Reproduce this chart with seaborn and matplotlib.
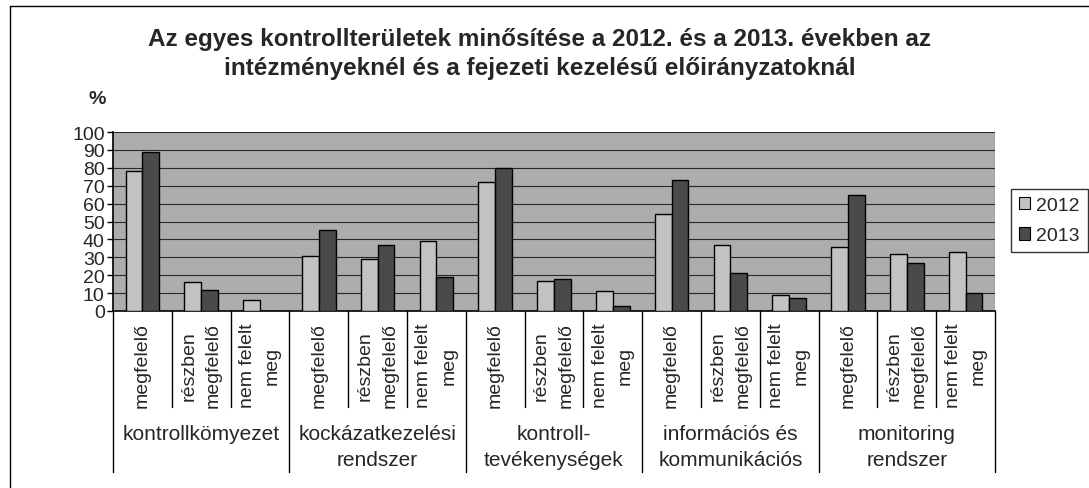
import numpy as np
import pandas as pd
import matplotlib
matplotlib.use("Agg")
import matplotlib.pyplot as plt
import seaborn as sns
from matplotlib.lines import Line2D

# chart data
groups = [
    "kontrollkömyezet",
    "kockázatkezelési\nrendszer",
    "kontroll-\ntevékenységek",
    "információs és\nkommunikációs",
    "monitoring\nrendszer",
]
subcats = ["megfelelő", "részben\nmegfelelő", "nem felelt\nmeg"]
years = ["2012", "2013"]
values_2012 = [78, 16, 6, 31, 29, 39, 72, 17, 11, 54, 37, 9, 36, 32, 33]
values_2013 = [89, 12, 0, 45, 37, 19, 80, 18, 3, 73, 21, 7, 65, 27, 10]
yticks = list(range(0, 101, 10))

keys = [f"{g}|{s}" for g in groups for s in subcats]
df = pd.DataFrame({
    "pos": keys * 2,
    "value": values_2012 + values_2013,
    "year": ["2012"] * len(keys) + ["2013"] * len(keys),
})

sns.set_style("white")
plt.rcParams["font.family"] = ["Liberation Sans", "DejaVu Sans"]

fig = plt.figure(figsize=(10.89, 4.89), dpi=100)
ax = fig.add_axes([113 / 1089, 1 - 312 / 489, (995 - 113) / 1089, (312 - 133) / 489])
ax.set_facecolor("#adadad")

sns.barplot(
    data=df, x="pos", y="value", hue="year", order=keys, hue_order=years,
    palette=["#c2c2c2", "#4a4a4a"], width=0.57, edgecolor="black",
    linewidth=1.0, ax=ax, legend=False, zorder=3,
)

ax.set_ylim(0, 100)
ax.set_xlim(-0.5, len(keys) - 0.5)
ax.set_yticks(yticks)
ax.set_yticklabels([str(t) for t in yticks], fontsize=14)
ax.tick_params(axis="y", length=4, width=1, color="black", pad=2, left=True)
ax.tick_params(axis="x", length=0, labelbottom=False)
ax.set_xlabel("")
ax.set_ylabel("")
ax.yaxis.grid(True, color="#2a2a2a", linewidth=0.8, zorder=1)
ax.set_axisbelow(True)
for side in ["top", "right"]:
    ax.spines[side].set_visible(False)
ax.spines["left"].set_color("black")
ax.spines["bottom"].set_color("black")
ax.spines["left"].set_linewidth(1.2)
ax.spines["bottom"].set_linewidth(1.2)
ax.axvline(len(keys) - 0.5, color="#555555", linewidth=1, linestyle=":", zorder=2)

# multi-level category axis below the plot
trans = ax.get_xaxis_transform()
sub_bottom = (312 - 408) / 179
grp_bottom = (312 - 473) / 179
for i in range(len(keys) + 1):
    x = i - 0.5
    y_end = grp_bottom if i % 3 == 0 else sub_bottom
    ax.add_line(Line2D([x, x], [0, y_end], transform=trans, color="black",
                       linewidth=1.0, clip_on=False))
for i, k in enumerate(keys):
    ax.text(i, (312 - 366) / 179, k.split("|")[1], transform=trans, rotation=90,
            ha="center", va="center", multialignment="center", fontsize=14,
            linespacing=1.6)
for j, g in enumerate(groups):
    ax.text(3 * j + 1, (312 - 425) / 179, g, transform=trans, ha="center",
            va="top", multialignment="center", fontsize=15, linespacing=1.45)

# titles
fig.text(540 / 1089, 1 - 54 / 489,
         "Az egyes kontrollterületek minősítése a 2012. és a 2013. években az\n"
         "intézményeknél és a fejezeti kezelésű előirányzatoknál",
         ha="center", va="center", fontsize=17.5, fontweight="bold", linespacing=1.3)
fig.text(97 / 1089, 1 - 100 / 489, "%", ha="center", va="center",
         fontsize=14, fontweight="bold")

# legend
handles = [plt.Rectangle((0, 0), 1, 1, facecolor=c, edgecolor="black", linewidth=0.8)
           for c in ["#c2c2c2", "#4a4a4a"]]
leg = fig.legend(handles, years, loc="upper left",
                 bbox_to_anchor=(1011 / 1089, 1 - 190 / 489), fontsize=14,
                 frameon=True, fancybox=False, handlelength=0.6, handleheight=0.6,
                 handletextpad=0.3, borderpad=0.4, labelspacing=0.7,
                 borderaxespad=0)
leg.get_frame().set_edgecolor("black")
leg.get_frame().set_linewidth(1)

# outer chart frame
fig.add_artist(Line2D([10 / 1089, 10 / 1089], [0, 1 - 7 / 489],
                      transform=fig.transFigure, color="black", linewidth=1))
fig.add_artist(Line2D([10 / 1089, 1], [1 - 7 / 489, 1 - 7 / 489],
                      transform=fig.transFigure, color="black", linewidth=1))

fig.savefig("out.png", dpi=100)
